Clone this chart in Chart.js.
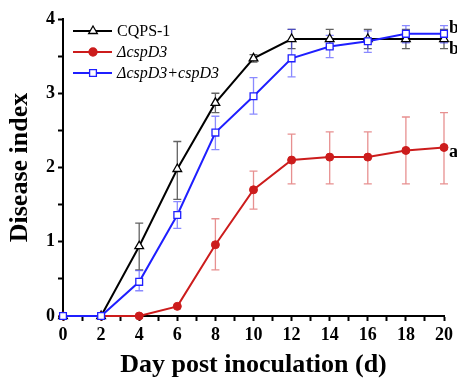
<!DOCTYPE html>
<html><head><meta charset="utf-8">
<script src="https://cdn.jsdelivr.net/npm/chart.js@4/dist/chart.umd.min.js"></script>
<style>html,body{margin:0;padding:0;background:#fff}#wrap{width:457px;height:378px}</style>
</head><body><div id="wrap"><canvas id="c" width="457" height="378"></canvas></div>
<script>
const days = [0,2,4,6,8,10,12,14,16,18,20];
const seriesNames = ['CQPS-1','ΔcspD3','ΔcspD3+cspD3'];
const cqps = [0,0,0.94,1.98,2.87,3.47,3.73,3.73,3.73,3.73,3.73];
const cqpsHi = [0,0,1.25,2.35,3.00,3.52,3.86,3.86,3.86,3.86,3.86];
const cqpsLo = [0,0,0.62,1.57,2.74,3.42,3.60,3.60,3.60,3.60,3.60];
const mut = [0,0,0,0.13,0.96,1.70,2.10,2.14,2.14,2.23,2.27];
const mutHi = [0,0,0,0.13,1.31,1.95,2.45,2.48,2.48,2.68,2.74];
const mutLo = [0,0,0,0.13,0.62,1.44,1.78,1.78,1.78,1.78,1.78];
const comp = [0,0,0.46,1.36,2.47,2.96,3.47,3.63,3.70,3.80,3.80];
const compHi = [0,0,0.61,1.54,2.69,3.21,3.86,3.78,3.84,3.91,3.91];
const compLo = [0,0,0.34,1.18,2.24,2.72,3.22,3.48,3.55,3.68,3.68];
const sigLetters = ['b','a','b'];
const xTicks = [0,2,4,6,8,10,12,14,16,18,20];
const yTicks = [0,1,2,3,4];

const serif = '"Liberation Serif", "Times New Roman", serif';
const pts = (arr)=>days.map((d,i)=>({x:d,y:arr[i]}));

const errPlugin = {
  id:'err',
  beforeDatasetsDraw(chart){
    const ctx=chart.ctx, xs=chart.scales.x, ys=chart.scales.y;
    const sets=[[cqpsHi,cqpsLo,'rgba(70,70,70,0.85)'],[mutHi,mutLo,'rgba(215,70,70,0.6)'],[compHi,compLo,'rgba(60,60,255,0.6)']];
    ctx.save();
    sets.forEach(([hi,lo,col])=>{
      ctx.strokeStyle=col; ctx.lineWidth=1.3;
      days.forEach((d,i)=>{
        if(hi[i]===lo[i]) return;
        const px=xs.getPixelForValue(d), t=ys.getPixelForValue(hi[i]), b=ys.getPixelForValue(lo[i]);
        ctx.beginPath();
        ctx.moveTo(px,t);ctx.lineTo(px,b);
        ctx.moveTo(px-4,t);ctx.lineTo(px+4,t);
        ctx.moveTo(px-4,b);ctx.lineTo(px+4,b);
        ctx.stroke();
      });
    });
    ctx.restore();
  },
  afterDraw(chart){
    const ctx=chart.ctx, xs=chart.scales.x, ys=chart.scales.y;
    ctx.save();
    const rows=[31,52,73];
    chart.data.datasets.forEach((ds,i)=>{
      const y=rows[i];
      ctx.strokeStyle=ds.borderColor; ctx.lineWidth=2;
      ctx.beginPath();ctx.moveTo(73,y);ctx.lineTo(112,y);ctx.stroke();
      ctx.fillStyle=ds.pointBackgroundColor; ctx.strokeStyle=ds.borderColor; ctx.lineWidth=1.3;
      Chart.helpers.drawPoint(ctx,{pointStyle:ds.pointStyle,radius:ds.pointRadius,borderWidth:1.3},93,y);
      ctx.fillStyle='#000';
      ctx.font=(i===0?'':'italic ')+'16px '+serif;
      ctx.textBaseline='middle'; ctx.textAlign='left';
      ctx.fillText(ds.label,117,y+1);
    });
    ctx.font='bold 18px '+serif; ctx.fillStyle='#000'; ctx.textBaseline='middle';
    const px=xs.getPixelForValue(20)+5;
    ctx.fillText(sigLetters[2],px,ys.getPixelForValue(comp[10])-6);
    ctx.fillText(sigLetters[0],px,ys.getPixelForValue(cqps[10])+10);
    ctx.fillText(sigLetters[1],px,ys.getPixelForValue(mut[10])+5);
    ctx.restore();
  }
};

new Chart(document.getElementById('c'),{
  type:'line',
  data:{datasets:[
    {label:seriesNames[0],data:pts(cqps),borderColor:'#000',backgroundColor:'#000',pointBackgroundColor:'#fff',pointBorderColor:'#000',pointStyle:'triangle',pointRadius:5,pointBorderWidth:1.3,borderWidth:2,tension:0,order:3},
    {label:seriesNames[1],data:pts(mut),borderColor:'#cc1c1c',backgroundColor:'#cc1c1c',pointBackgroundColor:'#cc1c1c',pointBorderColor:'#cc1c1c',pointStyle:'circle',pointRadius:4,pointBorderWidth:1,borderWidth:2,tension:0,order:2},
    {label:seriesNames[2],data:pts(comp),borderColor:'#1f1fff',backgroundColor:'#1f1fff',pointBackgroundColor:'#fff',pointBorderColor:'#1f1fff',pointStyle:'rect',pointRadius:4.8,pointBorderWidth:1.3,borderWidth:2,tension:0,order:1}
  ]},
  options:{
    responsive:false,animation:false,clip:false,
    layout:{padding:{top:19,right:10,left:0,bottom:0}},
    plugins:{legend:{display:false},tooltip:{enabled:false}},
    scales:{
      x:{type:'linear',min:0,max:20,
        afterFit(s){s.height=62;},
        afterBuildTicks(s){s.ticks=[];for(let v=0;v<=20;v++)s.ticks.push({value:v});},
        ticks:{autoSkip:false,maxRotation:0,padding:4,color:'#000',font:{family:serif,size:18,weight:'bold'},
          callback:(v)=>xTicks.includes(v)?String(v):''},
        grid:{drawOnChartArea:false,tickLength:5,tickColor:'#000',tickWidth:2},
        border:{color:'#000',width:2},
        title:{display:true,text:'Day post inoculation (d)',color:'#000',font:{family:serif,size:26,weight:'bold',lineHeight:1},padding:{top:0,bottom:0}}
      },
      y:{type:'linear',min:0,max:4,
        afterFit(s){s.width=63;},
        afterBuildTicks(s){s.ticks=[];for(let v=0;v<=8;v++)s.ticks.push({value:v/2});},
        ticks:{autoSkip:false,padding:3,color:'#000',font:{family:serif,size:18,weight:'bold'},
          callback:(v)=>yTicks.includes(v)?String(v):''},
        grid:{drawOnChartArea:false,tickLength:5,tickColor:'#000',tickWidth:2},
        border:{color:'#000',width:2},
        title:{display:true,text:'Disease index',color:'#000',font:{family:serif,size:26,weight:'bold',lineHeight:1},padding:{top:7,bottom:0}}
      }
    }
  },
  plugins:[errPlugin]
});
</script></body></html>
